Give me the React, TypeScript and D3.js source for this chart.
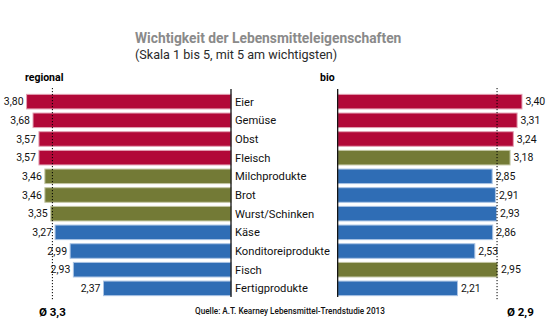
import React from "react";
import * as d3 from "d3";

const categories = ["Eier", "Gemüse", "Obst", "Fleisch", "Milchprodukte", "Brot", "Wurst/Schinken", "Käse", "Konditoreiprodukte", "Fisch", "Fertigprodukte"];
const regionalValues = [3.8, 3.68, 3.57, 3.57, 3.46, 3.46, 3.35, 3.27, 2.99, 2.93, 2.37];
const bioValues = [3.4, 3.31, 3.24, 3.18, 2.85, 2.91, 2.93, 2.86, 2.53, 2.95, 2.21];
const regionalGroups = ["red", "red", "red", "red", "olive", "olive", "olive", "blue", "blue", "blue", "blue"];
const bioGroups = ["red", "red", "red", "olive", "blue", "blue", "blue", "blue", "blue", "olive", "blue"];
const regionalAvg = 3.32;
const bioAvg = 2.94;
const regionalAvgLabel = "Ø 3,3";
const bioAvgLabel = "Ø 2,9";

const colors: Record<string, string> = { red: "#b20838", olive: "#737a36", blue: "#2f6db5" };
const halo: Record<string, string> = { red: "#e3a0b3", olive: "#c3c6a4", blue: "#a9c3e4" };

const fmt = (v: number) => v.toFixed(2).replace(".", ",");
const FONT = "Roboto, 'Liberation Sans', Arial, sans-serif";

export default function App() {
  const W = 551, H = 331;
  const y = d3.scaleBand<string>().domain(categories).range([92.3, 297.7]).paddingInner(0.22).paddingOuter(0.11);
  const xL = d3.scaleLinear().domain([0, 4]).range([231, 231 - 4 * 53.8]);
  const xR = d3.scaleLinear().domain([0, 4]).range([337.7, 337.7 + 4 * 54.2]);
  const bw = y.bandwidth();

  return (
    <svg width={W} height={H} style={{ position: "absolute", left: 0, top: 0, background: "#fff" }} fontFamily={FONT}>
      <text x={135} y={43} fontSize={13.8} fontWeight={700} fill="#8a8a8a">Wichtigkeit der Lebensmitteleigenschaften</text>
      <text x={135} y={58.5} fontSize={12.6} fill="#2a2a2a">(Skala 1 bis 5, mit 5 am wichtigsten)</text>
      <text x={25} y={81} fontSize={10.5} fontWeight={700} fill="#000">regional</text>
      <text x={320} y={81} fontSize={10.5} fontWeight={700} fill="#000">bio</text>

      {categories.map((c, i) => {
        const yy = y(c)!;
        const v = regionalValues[i];
        const g = regionalGroups[i];
        return (
          <g key={"l" + c}>
            <rect x={xL(v)} y={yy} width={xL(0) - xL(v)} height={bw} fill={colors[g]} stroke={halo[g]} strokeWidth={1} />
            <text x={xL(v) - 3} y={yy + bw / 2} dy="0.35em" textAnchor="end" fontSize={10.5} fill="#111">{fmt(v)}</text>
            <text x={235} y={yy + bw / 2} dy="0.35em" fontSize={11.2} fill="#111">{c}</text>
          </g>
        );
      })}
      {categories.map((c, i) => {
        const yy = y(c)!;
        const v = bioValues[i];
        const g = bioGroups[i];
        return (
          <g key={"r" + c}>
            <rect x={xR(0)} y={yy} width={xR(v) - xR(0)} height={bw} fill={colors[g]} stroke={halo[g]} strokeWidth={1} />
            <text x={xR(v) + 3.5} y={yy + bw / 2} dy="0.35em" fontSize={10.5} fill="#111">{fmt(v)}</text>
          </g>
        );
      })}

      <line x1={xL(0)} x2={xL(0)} y1={89} y2={297} stroke="#000" strokeWidth={1.2} />
      <line x1={xR(0)} x2={xR(0)} y1={89} y2={297} stroke="#000" strokeWidth={1.2} />
      <line x1={xL(regionalAvg)} x2={xL(regionalAvg)} y1={88} y2={300} stroke="#000" strokeWidth={1} strokeDasharray="1.2,1.8" />
      <line x1={xR(bioAvg)} x2={xR(bioAvg)} y1={88} y2={300} stroke="#000" strokeWidth={1} strokeDasharray="1.2,1.8" />

      <text x={39} y={316} fontSize={11.5} fontWeight={700} fill="#000">{regionalAvgLabel}</text>
      <text x={507} y={316} fontSize={11.5} fontWeight={700} fill="#000">{bioAvgLabel}</text>
      <text x={195} y={314} fontSize={8.2} fontWeight={500} fill="#111">Quelle: A.T. Kearney Lebensmittel-Trendstudie 2013</text>
    </svg>
  );
}
